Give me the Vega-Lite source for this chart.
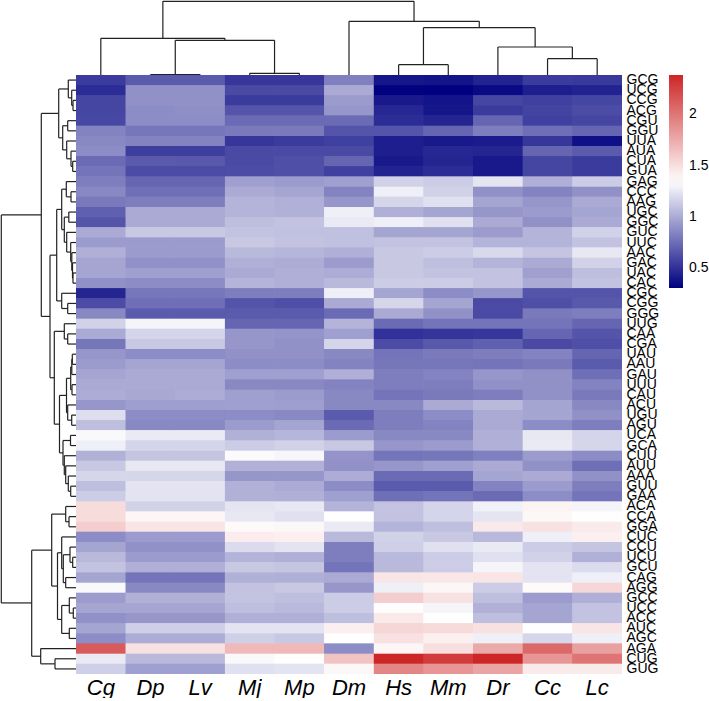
{"$schema":"https://vega.github.io/schema/vega-lite/v6.json","padding":0,"background":"white","spacing":0,"bounds":"flush","config":{"view":{"stroke":null},"font":"Liberation Sans","concat":{"spacing":0}},
"datasets":{
"colTree":[{"h":0.4,"a":1,"b":2,"ha":0,"hb":0},{"h":1.7,"a":3,"b":4,"ha":0,"hb":0},{"h":34.7,"a":1.5,"b":3.5,"ha":0.4,"hb":1.7},{"h":36.7,"a":0,"b":2.5,"ha":0,"hb":34.7},{"h":10.3,"a":6,"b":7,"ha":0,"hb":0},{"h":16.3,"a":9,"b":10,"ha":0,"hb":0},{"h":28,"a":8,"b":9.5,"ha":0,"hb":16.3},{"h":47.3,"a":6.5,"b":8.75,"ha":10.3,"hb":28},{"h":53.7,"a":5,"b":7.625,"ha":0,"hb":47.3},{"h":73.7,"a":1.25,"b":6.31,"ha":36.7,"hb":53.7}],
"rowTree":[{"h":3,"a":2,"b":3,"ha":0,"hb":0},{"h":4.3,"a":1,"b":2.5,"ha":0,"hb":3},{"h":7.7,"a":0,"b":1.75,"ha":0,"hb":4.3},{"h":8.3,"a":4,"b":5,"ha":0,"hb":0},{"h":3.3,"a":8,"b":9,"ha":0,"hb":0},{"h":5,"a":7,"b":8.5,"ha":0,"hb":3.3},{"h":9.3,"a":6,"b":7.75,"ha":0,"hb":5},{"h":13.3,"a":4.5,"b":6.875,"ha":8.3,"hb":9.3},{"h":17.3,"a":0.875,"b":5.6875,"ha":7.7,"hb":13.3},{"h":5,"a":11,"b":12,"ha":0,"hb":0},{"h":9.7,"a":10,"b":11.5,"ha":0,"hb":5},{"h":7.2,"a":13,"b":14,"ha":0,"hb":0},{"h":3,"a":19,"b":20,"ha":0,"hb":0},{"h":3.5,"a":18,"b":19.5,"ha":0,"hb":3},{"h":4.2,"a":17,"b":18.75,"ha":0,"hb":3.5},{"h":5.3,"a":16,"b":17.875,"ha":0,"hb":4.2},{"h":9.3,"a":15,"b":16.94,"ha":0,"hb":5.3},{"h":11.7,"a":13.5,"b":15.97,"ha":7.2,"hb":9.3},{"h":14.3,"a":10.75,"b":14.73,"ha":9.7,"hb":11.7},{"h":8.3,"a":22,"b":23,"ha":0,"hb":0},{"h":14.3,"a":21,"b":22.5,"ha":0,"hb":8.3},{"h":19.3,"a":12.74,"b":21.75,"ha":14.3,"hb":14.3},{"h":8.3,"a":25,"b":26,"ha":0,"hb":0},{"h":11.7,"a":24,"b":25.5,"ha":0,"hb":8.3},{"h":3.7,"a":27,"b":28,"ha":0,"hb":0},{"h":4.2,"a":27.5,"b":29,"ha":3.7,"hb":0},{"h":4,"a":30,"b":31,"ha":0,"hb":0},{"h":5.3,"a":28.25,"b":30.5,"ha":4.2,"hb":4},{"h":4.3,"a":33,"b":34,"ha":0,"hb":0},{"h":8.3,"a":32,"b":33.5,"ha":0,"hb":4.3},{"h":9.5,"a":29.375,"b":32.75,"ha":5.3,"hb":8.3},{"h":5.3,"a":40,"b":41,"ha":0,"hb":0},{"h":7.7,"a":39,"b":40.5,"ha":0,"hb":5.3},{"h":10.3,"a":38,"b":39.75,"ha":0,"hb":7.7},{"h":11.7,"a":37,"b":38.875,"ha":0,"hb":10.3},{"h":5.5,"a":35,"b":36,"ha":0,"hb":0},{"h":13,"a":35.5,"b":37.94,"ha":5.5,"hb":11.7},{"h":16.5,"a":31.06,"b":36.72,"ha":9.5,"hb":13},{"h":21.7,"a":24.75,"b":33.89,"ha":11.7,"hb":16.5},{"h":26,"a":17.245,"b":29.32,"ha":19.3,"hb":21.7},{"h":34.7,"a":3.281,"b":23.28,"ha":17.3,"hb":26},{"h":7,"a":43,"b":44,"ha":0,"hb":0},{"h":10.3,"a":42,"b":43.5,"ha":0,"hb":7},{"h":3.3,"a":47,"b":48,"ha":0,"hb":0},{"h":6,"a":46,"b":47.5,"ha":0,"hb":3.3},{"h":10.3,"a":49,"b":50,"ha":0,"hb":0},{"h":12.7,"a":46.75,"b":49.5,"ha":6,"hb":10.3},{"h":14.3,"a":45,"b":48.125,"ha":0,"hb":12.7},{"h":2.7,"a":52,"b":53,"ha":0,"hb":0},{"h":6.7,"a":51,"b":52.5,"ha":0,"hb":2.7},{"h":6.7,"a":54,"b":55,"ha":0,"hb":0},{"h":14.3,"a":51.75,"b":54.5,"ha":6.7,"hb":6.7},{"h":18.5,"a":46.56,"b":53.125,"ha":14.3,"hb":14.3},{"h":24.3,"a":42.75,"b":49.84,"ha":10.3,"hb":18.5},{"h":21,"a":57,"b":58,"ha":0,"hb":0},{"h":35.3,"a":56,"b":57.5,"ha":0,"hb":21},{"h":44.3,"a":46.3,"b":56.75,"ha":24.3,"hb":35.3},{"h":74.7,"a":13.28,"b":51.5,"ha":34.7,"hb":44.3}],
"heat":[
{"r":"GCG","c":"Cg","v":0.55},{"r":"GCG","c":"Dp","v":0.68},{"r":"GCG","c":"Lv","v":0.68},{"r":"GCG","c":"Mj","v":0.53},{"r":"GCG","c":"Mp","v":0.53},{"r":"GCG","c":"Dm","v":0.83},{"r":"GCG","c":"Hs","v":0.4},{"r":"GCG","c":"Mm","v":0.39},{"r":"GCG","c":"Dr","v":0.45},{"r":"GCG","c":"Cc","v":0.55},{"r":"GCG","c":"Lc","v":0.54},
{"r":"UCG","c":"Cg","v":0.49},{"r":"UCG","c":"Dp","v":0.9},{"r":"UCG","c":"Lv","v":0.9},{"r":"UCG","c":"Mj","v":0.61},{"r":"UCG","c":"Mp","v":0.61},{"r":"UCG","c":"Dm","v":1.0},{"r":"UCG","c":"Hs","v":0.32},{"r":"UCG","c":"Mm","v":0.31},{"r":"UCG","c":"Dr","v":0.35},{"r":"UCG","c":"Cc","v":0.43},{"r":"UCG","c":"Lc","v":0.45},
{"r":"CCG","c":"Cg","v":0.59},{"r":"CCG","c":"Dp","v":0.9},{"r":"CCG","c":"Lv","v":0.9},{"r":"CCG","c":"Mj","v":0.55},{"r":"CCG","c":"Mp","v":0.55},{"r":"CCG","c":"Dm","v":0.94},{"r":"CCG","c":"Hs","v":0.41},{"r":"CCG","c":"Mm","v":0.39},{"r":"CCG","c":"Dr","v":0.59},{"r":"CCG","c":"Cc","v":0.57},{"r":"CCG","c":"Lc","v":0.59},
{"r":"ACG","c":"Cg","v":0.59},{"r":"ACG","c":"Dp","v":0.88},{"r":"ACG","c":"Lv","v":0.89},{"r":"ACG","c":"Mj","v":0.65},{"r":"ACG","c":"Mp","v":0.65},{"r":"ACG","c":"Dm","v":0.92},{"r":"ACG","c":"Hs","v":0.47},{"r":"ACG","c":"Mm","v":0.4},{"r":"ACG","c":"Dr","v":0.55},{"r":"ACG","c":"Cc","v":0.58},{"r":"ACG","c":"Lc","v":0.62},
{"r":"CGU","c":"Cg","v":0.6},{"r":"CGU","c":"Dp","v":0.88},{"r":"CGU","c":"Lv","v":0.88},{"r":"CGU","c":"Mj","v":0.74},{"r":"CGU","c":"Mp","v":0.74},{"r":"CGU","c":"Dm","v":0.74},{"r":"CGU","c":"Hs","v":0.49},{"r":"CGU","c":"Mm","v":0.46},{"r":"CGU","c":"Dr","v":0.72},{"r":"CGU","c":"Cc","v":0.57},{"r":"CGU","c":"Lc","v":0.59},
{"r":"GGU","c":"Cg","v":0.84},{"r":"GGU","c":"Dp","v":0.79},{"r":"GGU","c":"Lv","v":0.79},{"r":"GGU","c":"Mj","v":0.8},{"r":"GGU","c":"Mp","v":0.8},{"r":"GGU","c":"Dm","v":0.65},{"r":"GGU","c":"Hs","v":0.65},{"r":"GGU","c":"Mm","v":0.72},{"r":"GGU","c":"Dr","v":0.82},{"r":"GGU","c":"Cc","v":0.76},{"r":"GGU","c":"Lc","v":0.72},
{"r":"UUA","c":"Cg","v":0.86},{"r":"UUA","c":"Dp","v":0.84},{"r":"UUA","c":"Lv","v":0.84},{"r":"UUA","c":"Mj","v":0.53},{"r":"UUA","c":"Mp","v":0.55},{"r":"UUA","c":"Dm","v":0.57},{"r":"UUA","c":"Hs","v":0.43},{"r":"UUA","c":"Mm","v":0.41},{"r":"UUA","c":"Dr","v":0.42},{"r":"UUA","c":"Cc","v":0.53},{"r":"UUA","c":"Lc","v":0.37},
{"r":"AUA","c":"Cg","v":0.88},{"r":"AUA","c":"Dp","v":0.56},{"r":"AUA","c":"Lv","v":0.56},{"r":"AUA","c":"Mj","v":0.61},{"r":"AUA","c":"Mp","v":0.61},{"r":"AUA","c":"Dm","v":0.61},{"r":"AUA","c":"Hs","v":0.43},{"r":"AUA","c":"Mm","v":0.47},{"r":"AUA","c":"Dr","v":0.46},{"r":"AUA","c":"Cc","v":0.72},{"r":"AUA","c":"Lc","v":0.68},
{"r":"CUA","c":"Cg","v":0.74},{"r":"CUA","c":"Dp","v":0.68},{"r":"CUA","c":"Lv","v":0.67},{"r":"CUA","c":"Mj","v":0.61},{"r":"CUA","c":"Mp","v":0.63},{"r":"CUA","c":"Dm","v":0.72},{"r":"CUA","c":"Hs","v":0.41},{"r":"CUA","c":"Mm","v":0.46},{"r":"CUA","c":"Dr","v":0.41},{"r":"CUA","c":"Cc","v":0.59},{"r":"CUA","c":"Lc","v":0.55},
{"r":"GUA","c":"Cg","v":0.78},{"r":"GUA","c":"Dp","v":0.62},{"r":"GUA","c":"Lv","v":0.62},{"r":"GUA","c":"Mj","v":0.62},{"r":"GUA","c":"Mp","v":0.63},{"r":"GUA","c":"Dm","v":0.57},{"r":"GUA","c":"Hs","v":0.45},{"r":"GUA","c":"Mm","v":0.49},{"r":"GUA","c":"Dr","v":0.41},{"r":"GUA","c":"Cc","v":0.59},{"r":"GUA","c":"Lc","v":0.55},
{"r":"GAG","c":"Cg","v":0.82},{"r":"GAG","c":"Dp","v":0.72},{"r":"GAG","c":"Lv","v":0.72},{"r":"GAG","c":"Mj","v":0.96},{"r":"GAG","c":"Mp","v":0.94},{"r":"GAG","c":"Dm","v":0.96},{"r":"GAG","c":"Hs","v":1.16},{"r":"GAG","c":"Mm","v":1.14},{"r":"GAG","c":"Dr","v":1.24},{"r":"GAG","c":"Cc","v":1.02},{"r":"GAG","c":"Lc","v":1.14},
{"r":"CCC","c":"Cg","v":0.86},{"r":"CCC","c":"Dp","v":0.76},{"r":"CCC","c":"Lv","v":0.76},{"r":"CCC","c":"Mj","v":1.0},{"r":"CCC","c":"Mp","v":0.98},{"r":"CCC","c":"Dm","v":0.84},{"r":"CCC","c":"Hs","v":1.28},{"r":"CCC","c":"Mm","v":1.16},{"r":"CCC","c":"Dr","v":0.9},{"r":"CCC","c":"Cc","v":0.84},{"r":"CCC","c":"Lc","v":0.9},
{"r":"AAG","c":"Cg","v":0.8},{"r":"AAG","c":"Dp","v":0.82},{"r":"AAG","c":"Lv","v":0.82},{"r":"AAG","c":"Mj","v":1.04},{"r":"AAG","c":"Mp","v":1.02},{"r":"AAG","c":"Dm","v":0.92},{"r":"AAG","c":"Hs","v":1.18},{"r":"AAG","c":"Mm","v":1.22},{"r":"AAG","c":"Dr","v":0.98},{"r":"AAG","c":"Cc","v":0.92},{"r":"AAG","c":"Lc","v":1.0},
{"r":"UGC","c":"Cg","v":0.7},{"r":"UGC","c":"Dp","v":1.0},{"r":"UGC","c":"Lv","v":1.0},{"r":"UGC","c":"Mj","v":1.04},{"r":"UGC","c":"Mp","v":1.03},{"r":"UGC","c":"Dm","v":1.28},{"r":"UGC","c":"Hs","v":1.02},{"r":"UGC","c":"Mm","v":0.98},{"r":"UGC","c":"Dr","v":0.92},{"r":"UGC","c":"Cc","v":0.94},{"r":"UGC","c":"Lc","v":0.98},
{"r":"GGC","c":"Cg","v":0.65},{"r":"GGC","c":"Dp","v":1.0},{"r":"GGC","c":"Lv","v":1.0},{"r":"GGC","c":"Mj","v":1.08},{"r":"GGC","c":"Mp","v":1.1},{"r":"GGC","c":"Dm","v":1.26},{"r":"GGC","c":"Hs","v":1.28},{"r":"GGC","c":"Mm","v":1.22},{"r":"GGC","c":"Dr","v":1.0},{"r":"GGC","c":"Cc","v":0.9},{"r":"GGC","c":"Lc","v":1.0},
{"r":"GUC","c":"Cg","v":1.0},{"r":"GUC","c":"Dp","v":1.12},{"r":"GUC","c":"Lv","v":1.12},{"r":"GUC","c":"Mj","v":1.1},{"r":"GUC","c":"Mp","v":1.09},{"r":"GUC","c":"Dm","v":1.09},{"r":"GUC","c":"Hs","v":0.98},{"r":"GUC","c":"Mm","v":0.98},{"r":"GUC","c":"Dr","v":0.94},{"r":"GUC","c":"Cc","v":1.04},{"r":"GUC","c":"Lc","v":1.16},
{"r":"UUC","c":"Cg","v":0.94},{"r":"UUC","c":"Dp","v":0.94},{"r":"UUC","c":"Lv","v":0.94},{"r":"UUC","c":"Mj","v":1.12},{"r":"UUC","c":"Mp","v":1.1},{"r":"UUC","c":"Dm","v":1.09},{"r":"UUC","c":"Hs","v":1.1},{"r":"UUC","c":"Mm","v":1.1},{"r":"UUC","c":"Dr","v":1.04},{"r":"UUC","c":"Cc","v":1.04},{"r":"UUC","c":"Lc","v":1.1},
{"r":"AAC","c":"Cg","v":1.02},{"r":"AAC","c":"Dp","v":0.94},{"r":"AAC","c":"Lv","v":0.94},{"r":"AAC","c":"Mj","v":1.06},{"r":"AAC","c":"Mp","v":1.05},{"r":"AAC","c":"Dm","v":1.02},{"r":"AAC","c":"Hs","v":1.12},{"r":"AAC","c":"Mm","v":1.14},{"r":"AAC","c":"Dr","v":1.19},{"r":"AAC","c":"Cc","v":1.11},{"r":"AAC","c":"Lc","v":1.25},
{"r":"GAC","c":"Cg","v":0.98},{"r":"GAC","c":"Dp","v":0.9},{"r":"GAC","c":"Lv","v":0.9},{"r":"GAC","c":"Mj","v":1.02},{"r":"GAC","c":"Mp","v":1.01},{"r":"GAC","c":"Dm","v":0.94},{"r":"GAC","c":"Hs","v":1.12},{"r":"GAC","c":"Mm","v":1.08},{"r":"GAC","c":"Dr","v":1.04},{"r":"GAC","c":"Cc","v":1.0},{"r":"GAC","c":"Lc","v":1.16},
{"r":"UAC","c":"Cg","v":0.98},{"r":"UAC","c":"Dp","v":0.96},{"r":"UAC","c":"Lv","v":0.96},{"r":"UAC","c":"Mj","v":1.0},{"r":"UAC","c":"Mp","v":1.02},{"r":"UAC","c":"Dm","v":1.01},{"r":"UAC","c":"Hs","v":1.12},{"r":"UAC","c":"Mm","v":1.1},{"r":"UAC","c":"Dr","v":1.1},{"r":"UAC","c":"Cc","v":0.96},{"r":"UAC","c":"Lc","v":1.08},
{"r":"CAC","c":"Cg","v":0.9},{"r":"CAC","c":"Dp","v":0.88},{"r":"CAC","c":"Lv","v":0.88},{"r":"CAC","c":"Mj","v":1.04},{"r":"CAC","c":"Mp","v":1.02},{"r":"CAC","c":"Dm","v":1.06},{"r":"CAC","c":"Hs","v":1.14},{"r":"CAC","c":"Mm","v":1.14},{"r":"CAC","c":"Dr","v":1.1},{"r":"CAC","c":"Cc","v":1.0},{"r":"CAC","c":"Lc","v":1.1},
{"r":"CGC","c":"Cg","v":0.46},{"r":"CGC","c":"Dp","v":0.79},{"r":"CGC","c":"Lv","v":0.79},{"r":"CGC","c":"Mj","v":0.82},{"r":"CGC","c":"Mp","v":0.82},{"r":"CGC","c":"Dm","v":1.28},{"r":"CGC","c":"Hs","v":0.98},{"r":"CGC","c":"Mm","v":0.88},{"r":"CGC","c":"Dr","v":0.92},{"r":"CGC","c":"Cc","v":0.65},{"r":"CGC","c":"Lc","v":0.65},
{"r":"CGG","c":"Cg","v":0.62},{"r":"CGG","c":"Dp","v":0.76},{"r":"CGG","c":"Lv","v":0.76},{"r":"CGG","c":"Mj","v":0.65},{"r":"CGG","c":"Mp","v":0.63},{"r":"CGG","c":"Dm","v":1.0},{"r":"CGG","c":"Hs","v":1.18},{"r":"CGG","c":"Mm","v":0.98},{"r":"CGG","c":"Dr","v":0.61},{"r":"CGG","c":"Cc","v":0.63},{"r":"CGG","c":"Lc","v":0.67},
{"r":"GGG","c":"Cg","v":0.86},{"r":"GGG","c":"Dp","v":0.68},{"r":"GGG","c":"Lv","v":0.68},{"r":"GGG","c":"Mj","v":0.68},{"r":"GGG","c":"Mp","v":0.68},{"r":"GGG","c":"Dm","v":0.74},{"r":"GGG","c":"Hs","v":1.0},{"r":"GGG","c":"Mm","v":0.9},{"r":"GGG","c":"Dr","v":0.61},{"r":"GGG","c":"Cc","v":0.8},{"r":"GGG","c":"Lc","v":0.82},
{"r":"UUG","c":"Cg","v":1.16},{"r":"UUG","c":"Dp","v":1.3},{"r":"UUG","c":"Lv","v":1.3},{"r":"UUG","c":"Mj","v":0.72},{"r":"UUG","c":"Mp","v":0.72},{"r":"UUG","c":"Dm","v":1.04},{"r":"UUG","c":"Hs","v":0.74},{"r":"UUG","c":"Mm","v":0.78},{"r":"UUG","c":"Dr","v":0.78},{"r":"UUG","c":"Cc","v":0.78},{"r":"UUG","c":"Lc","v":0.72},
{"r":"CAA","c":"Cg","v":1.0},{"r":"CAA","c":"Dp","v":1.17},{"r":"CAA","c":"Lv","v":1.17},{"r":"CAA","c":"Mj","v":0.92},{"r":"CAA","c":"Mp","v":0.91},{"r":"CAA","c":"Dm","v":0.96},{"r":"CAA","c":"Hs","v":0.51},{"r":"CAA","c":"Mm","v":0.52},{"r":"CAA","c":"Dr","v":0.53},{"r":"CAA","c":"Cc","v":0.72},{"r":"CAA","c":"Lc","v":0.65},
{"r":"CGA","c":"Cg","v":0.79},{"r":"CGA","c":"Dp","v":1.12},{"r":"CGA","c":"Lv","v":1.12},{"r":"CGA","c":"Mj","v":0.92},{"r":"CGA","c":"Mp","v":0.9},{"r":"CGA","c":"Dm","v":1.17},{"r":"CGA","c":"Hs","v":0.62},{"r":"CGA","c":"Mm","v":0.67},{"r":"CGA","c":"Dr","v":0.7},{"r":"CGA","c":"Cc","v":0.61},{"r":"CGA","c":"Lc","v":0.63},
{"r":"UAU","c":"Cg","v":0.92},{"r":"UAU","c":"Dp","v":0.88},{"r":"UAU","c":"Lv","v":0.88},{"r":"UAU","c":"Mj","v":0.9},{"r":"UAU","c":"Mp","v":0.9},{"r":"UAU","c":"Dm","v":0.86},{"r":"UAU","c":"Hs","v":0.78},{"r":"UAU","c":"Mm","v":0.8},{"r":"UAU","c":"Dr","v":0.82},{"r":"UAU","c":"Cc","v":0.84},{"r":"UAU","c":"Lc","v":0.72},
{"r":"AAU","c":"Cg","v":0.94},{"r":"AAU","c":"Dp","v":0.98},{"r":"AAU","c":"Lv","v":0.98},{"r":"AAU","c":"Mj","v":0.88},{"r":"AAU","c":"Mp","v":0.88},{"r":"AAU","c":"Dm","v":0.84},{"r":"AAU","c":"Hs","v":0.79},{"r":"AAU","c":"Mm","v":0.79},{"r":"AAU","c":"Dr","v":0.78},{"r":"AAU","c":"Cc","v":0.8},{"r":"AAU","c":"Lc","v":0.68},
{"r":"GAU","c":"Cg","v":0.98},{"r":"GAU","c":"Dp","v":1.0},{"r":"GAU","c":"Lv","v":1.0},{"r":"GAU","c":"Mj","v":0.96},{"r":"GAU","c":"Mp","v":0.96},{"r":"GAU","c":"Dm","v":1.02},{"r":"GAU","c":"Hs","v":0.82},{"r":"GAU","c":"Mm","v":0.84},{"r":"GAU","c":"Dr","v":0.92},{"r":"GAU","c":"Cc","v":0.9},{"r":"GAU","c":"Lc","v":0.76},
{"r":"UUU","c":"Cg","v":1.0},{"r":"UUU","c":"Dp","v":1.0},{"r":"UUU","c":"Lv","v":1.0},{"r":"UUU","c":"Mj","v":0.86},{"r":"UUU","c":"Mp","v":0.86},{"r":"UUU","c":"Dm","v":0.84},{"r":"UUU","c":"Hs","v":0.82},{"r":"UUU","c":"Mm","v":0.82},{"r":"UUU","c":"Dr","v":0.9},{"r":"UUU","c":"Cc","v":0.9},{"r":"UUU","c":"Lc","v":0.84},
{"r":"CAU","c":"Cg","v":1.01},{"r":"CAU","c":"Dp","v":0.99},{"r":"CAU","c":"Lv","v":1.01},{"r":"CAU","c":"Mj","v":0.96},{"r":"CAU","c":"Mp","v":0.94},{"r":"CAU","c":"Dm","v":0.86},{"r":"CAU","c":"Hs","v":0.78},{"r":"CAU","c":"Mm","v":0.8},{"r":"CAU","c":"Dr","v":0.82},{"r":"CAU","c":"Cc","v":0.9},{"r":"CAU","c":"Lc","v":0.8},
{"r":"ACU","c":"Cg","v":0.92},{"r":"ACU","c":"Dp","v":0.95},{"r":"ACU","c":"Lv","v":0.95},{"r":"ACU","c":"Mj","v":0.96},{"r":"ACU","c":"Mp","v":0.95},{"r":"ACU","c":"Dm","v":0.86},{"r":"ACU","c":"Hs","v":0.86},{"r":"ACU","c":"Mm","v":1.0},{"r":"ACU","c":"Dr","v":1.06},{"r":"ACU","c":"Cc","v":0.98},{"r":"ACU","c":"Lc","v":0.86},
{"r":"UGU","c":"Cg","v":1.21},{"r":"UGU","c":"Dp","v":0.88},{"r":"UGU","c":"Lv","v":0.88},{"r":"UGU","c":"Mj","v":0.88},{"r":"UGU","c":"Mp","v":0.86},{"r":"UGU","c":"Dm","v":0.68},{"r":"UGU","c":"Hs","v":0.82},{"r":"UGU","c":"Mm","v":0.88},{"r":"UGU","c":"Dr","v":1.0},{"r":"UGU","c":"Cc","v":0.98},{"r":"UGU","c":"Lc","v":0.9},
{"r":"AGU","c":"Cg","v":1.08},{"r":"AGU","c":"Dp","v":0.86},{"r":"AGU","c":"Lv","v":0.86},{"r":"AGU","c":"Mj","v":0.94},{"r":"AGU","c":"Mp","v":0.98},{"r":"AGU","c":"Dm","v":0.74},{"r":"AGU","c":"Hs","v":0.82},{"r":"AGU","c":"Mm","v":0.84},{"r":"AGU","c":"Dr","v":1.0},{"r":"AGU","c":"Cc","v":0.88},{"r":"AGU","c":"Lc","v":0.82},
{"r":"UCA","c":"Cg","v":1.32},{"r":"UCA","c":"Dp","v":1.26},{"r":"UCA","c":"Lv","v":1.26},{"r":"UCA","c":"Mj","v":1.03},{"r":"UCA","c":"Mp","v":1.05},{"r":"UCA","c":"Dm","v":0.94},{"r":"UCA","c":"Hs","v":0.86},{"r":"UCA","c":"Mm","v":0.86},{"r":"UCA","c":"Dr","v":1.02},{"r":"UCA","c":"Cc","v":1.25},{"r":"UCA","c":"Lc","v":1.17},
{"r":"GCA","c":"Cg","v":1.28},{"r":"GCA","c":"Dp","v":1.17},{"r":"GCA","c":"Lv","v":1.17},{"r":"GCA","c":"Mj","v":1.14},{"r":"GCA","c":"Mp","v":1.16},{"r":"GCA","c":"Dm","v":1.12},{"r":"GCA","c":"Hs","v":0.92},{"r":"GCA","c":"Mm","v":0.94},{"r":"GCA","c":"Dr","v":1.02},{"r":"GCA","c":"Cc","v":1.26},{"r":"GCA","c":"Lc","v":1.18},
{"r":"CUU","c":"Cg","v":1.03},{"r":"CUU","c":"Dp","v":1.11},{"r":"CUU","c":"Lv","v":1.11},{"r":"CUU","c":"Mj","v":1.33},{"r":"CUU","c":"Mp","v":1.31},{"r":"CUU","c":"Dm","v":0.91},{"r":"CUU","c":"Hs","v":0.78},{"r":"CUU","c":"Mm","v":0.79},{"r":"CUU","c":"Dr","v":0.83},{"r":"CUU","c":"Cc","v":0.94},{"r":"CUU","c":"Lc","v":0.88},
{"r":"AUU","c":"Cg","v":1.12},{"r":"AUU","c":"Dp","v":1.25},{"r":"AUU","c":"Lv","v":1.25},{"r":"AUU","c":"Mj","v":1.03},{"r":"AUU","c":"Mp","v":1.03},{"r":"AUU","c":"Dm","v":0.9},{"r":"AUU","c":"Hs","v":0.92},{"r":"AUU","c":"Mm","v":0.96},{"r":"AUU","c":"Dr","v":1.0},{"r":"AUU","c":"Cc","v":0.9},{"r":"AUU","c":"Lc","v":0.76},
{"r":"AAA","c":"Cg","v":1.18},{"r":"AAA","c":"Dp","v":1.18},{"r":"AAA","c":"Lv","v":1.18},{"r":"AAA","c":"Mj","v":0.92},{"r":"AAA","c":"Mp","v":0.92},{"r":"AAA","c":"Dm","v":1.01},{"r":"AAA","c":"Hs","v":0.74},{"r":"AAA","c":"Mm","v":0.74},{"r":"AAA","c":"Dr","v":0.98},{"r":"AAA","c":"Cc","v":1.0},{"r":"AAA","c":"Lc","v":0.9},
{"r":"GUU","c":"Cg","v":1.08},{"r":"GUU","c":"Dp","v":1.23},{"r":"GUU","c":"Lv","v":1.23},{"r":"GUU","c":"Mj","v":1.03},{"r":"GUU","c":"Mp","v":1.0},{"r":"GUU","c":"Dm","v":0.88},{"r":"GUU","c":"Hs","v":0.68},{"r":"GUU","c":"Mm","v":0.68},{"r":"GUU","c":"Dr","v":0.84},{"r":"GUU","c":"Cc","v":0.94},{"r":"GUU","c":"Lc","v":0.82},
{"r":"GAA","c":"Cg","v":1.14},{"r":"GAA","c":"Dp","v":1.23},{"r":"GAA","c":"Lv","v":1.23},{"r":"GAA","c":"Mj","v":1.03},{"r":"GAA","c":"Mp","v":1.02},{"r":"GAA","c":"Dm","v":0.96},{"r":"GAA","c":"Hs","v":0.76},{"r":"GAA","c":"Mm","v":0.78},{"r":"GAA","c":"Dr","v":0.74},{"r":"GAA","c":"Cc","v":0.88},{"r":"GAA","c":"Lc","v":0.78},
{"r":"ACA","c":"Cg","v":1.51},{"r":"ACA","c":"Dp","v":1.16},{"r":"ACA","c":"Lv","v":1.16},{"r":"ACA","c":"Mj","v":1.24},{"r":"ACA","c":"Mp","v":1.25},{"r":"ACA","c":"Dm","v":1.04},{"r":"ACA","c":"Hs","v":1.1},{"r":"ACA","c":"Mm","v":1.17},{"r":"ACA","c":"Dr","v":1.29},{"r":"ACA","c":"Cc","v":1.4},{"r":"ACA","c":"Lc","v":1.3},
{"r":"CCA","c":"Cg","v":1.51},{"r":"CCA","c":"Dp","v":1.39},{"r":"CCA","c":"Lv","v":1.39},{"r":"CCA","c":"Mj","v":1.25},{"r":"CCA","c":"Mp","v":1.22},{"r":"CCA","c":"Dm","v":1.34},{"r":"CCA","c":"Hs","v":1.1},{"r":"CCA","c":"Mm","v":1.17},{"r":"CCA","c":"Dr","v":1.24},{"r":"CCA","c":"Cc","v":1.38},{"r":"CCA","c":"Lc","v":1.35},
{"r":"GGA","c":"Cg","v":1.58},{"r":"GGA","c":"Dp","v":1.47},{"r":"GGA","c":"Lv","v":1.47},{"r":"GGA","c":"Mj","v":1.37},{"r":"GGA","c":"Mp","v":1.38},{"r":"GGA","c":"Dm","v":1.26},{"r":"GGA","c":"Hs","v":1.04},{"r":"GGA","c":"Mm","v":1.08},{"r":"GGA","c":"Dr","v":1.45},{"r":"GGA","c":"Cc","v":1.49},{"r":"GGA","c":"Lc","v":1.44},
{"r":"CUC","c":"Cg","v":0.88},{"r":"CUC","c":"Dp","v":0.94},{"r":"CUC","c":"Lv","v":0.94},{"r":"CUC","c":"Mj","v":1.43},{"r":"CUC","c":"Mp","v":1.42},{"r":"CUC","c":"Dm","v":1.06},{"r":"CUC","c":"Hs","v":1.16},{"r":"CUC","c":"Mm","v":1.12},{"r":"CUC","c":"Dr","v":1.06},{"r":"CUC","c":"Cc","v":1.28},{"r":"CUC","c":"Lc","v":1.42},
{"r":"CCU","c":"Cg","v":0.98},{"r":"CCU","c":"Dp","v":0.9},{"r":"CCU","c":"Lv","v":0.9},{"r":"CCU","c":"Mj","v":1.2},{"r":"CCU","c":"Mp","v":1.23},{"r":"CCU","c":"Dm","v":0.82},{"r":"CCU","c":"Hs","v":1.15},{"r":"CCU","c":"Mm","v":1.22},{"r":"CCU","c":"Dr","v":1.26},{"r":"CCU","c":"Cc","v":1.14},{"r":"CCU","c":"Lc","v":1.11},
{"r":"UCU","c":"Cg","v":1.06},{"r":"UCU","c":"Dp","v":0.94},{"r":"UCU","c":"Lv","v":0.94},{"r":"UCU","c":"Mj","v":1.04},{"r":"UCU","c":"Mp","v":1.02},{"r":"UCU","c":"Dm","v":0.82},{"r":"UCU","c":"Hs","v":1.06},{"r":"UCU","c":"Mm","v":1.14},{"r":"UCU","c":"Dr","v":1.22},{"r":"UCU","c":"Cc","v":1.16},{"r":"UCU","c":"Lc","v":1.02},
{"r":"GCU","c":"Cg","v":1.1},{"r":"GCU","c":"Dp","v":1.02},{"r":"GCU","c":"Lv","v":1.02},{"r":"GCU","c":"Mj","v":1.12},{"r":"GCU","c":"Mp","v":1.11},{"r":"GCU","c":"Dm","v":0.78},{"r":"GCU","c":"Hs","v":1.06},{"r":"GCU","c":"Mm","v":1.14},{"r":"GCU","c":"Dr","v":1.3},{"r":"GCU","c":"Cc","v":1.23},{"r":"GCU","c":"Lc","v":1.2},
{"r":"CAG","c":"Cg","v":0.98},{"r":"CAG","c":"Dp","v":0.78},{"r":"CAG","c":"Lv","v":0.78},{"r":"CAG","c":"Mj","v":1.03},{"r":"CAG","c":"Mp","v":1.02},{"r":"CAG","c":"Dm","v":1.0},{"r":"CAG","c":"Hs","v":1.47},{"r":"CAG","c":"Mm","v":1.46},{"r":"CAG","c":"Dr","v":1.47},{"r":"CAG","c":"Cc","v":1.23},{"r":"CAG","c":"Lc","v":1.28},
{"r":"AGG","c":"Cg","v":1.32},{"r":"AGG","c":"Dp","v":0.86},{"r":"AGG","c":"Lv","v":0.86},{"r":"AGG","c":"Mj","v":1.1},{"r":"AGG","c":"Mp","v":1.12},{"r":"AGG","c":"Dm","v":0.92},{"r":"AGG","c":"Hs","v":1.28},{"r":"AGG","c":"Mm","v":1.39},{"r":"AGG","c":"Dr","v":1.14},{"r":"AGG","c":"Cc","v":1.37},{"r":"AGG","c":"Lc","v":1.54},
{"r":"GCC","c":"Cg","v":0.94},{"r":"GCC","c":"Dp","v":1.03},{"r":"GCC","c":"Lv","v":1.03},{"r":"GCC","c":"Mj","v":1.1},{"r":"GCC","c":"Mp","v":1.08},{"r":"GCC","c":"Dm","v":1.14},{"r":"GCC","c":"Hs","v":1.58},{"r":"GCC","c":"Mm","v":1.49},{"r":"GCC","c":"Dr","v":1.08},{"r":"GCC","c":"Cc","v":0.94},{"r":"GCC","c":"Lc","v":1.02},
{"r":"UCC","c":"Cg","v":0.98},{"r":"UCC","c":"Dp","v":0.98},{"r":"UCC","c":"Lv","v":0.98},{"r":"UCC","c":"Mj","v":1.08},{"r":"UCC","c":"Mp","v":1.06},{"r":"UCC","c":"Dm","v":1.14},{"r":"UCC","c":"Hs","v":1.36},{"r":"UCC","c":"Mm","v":1.3},{"r":"UCC","c":"Dr","v":1.03},{"r":"UCC","c":"Cc","v":0.98},{"r":"UCC","c":"Lc","v":1.1},
{"r":"ACC","c":"Cg","v":0.9},{"r":"ACC","c":"Dp","v":0.92},{"r":"ACC","c":"Lv","v":0.92},{"r":"ACC","c":"Mj","v":1.02},{"r":"ACC","c":"Mp","v":1.02},{"r":"ACC","c":"Dm","v":1.08},{"r":"ACC","c":"Hs","v":1.45},{"r":"ACC","c":"Mm","v":1.35},{"r":"ACC","c":"Dr","v":1.08},{"r":"ACC","c":"Cc","v":0.98},{"r":"ACC","c":"Lc","v":1.1},
{"r":"AUC","c":"Cg","v":0.98},{"r":"AUC","c":"Dp","v":1.15},{"r":"AUC","c":"Lv","v":1.15},{"r":"AUC","c":"Mj","v":1.23},{"r":"AUC","c":"Mp","v":1.23},{"r":"AUC","c":"Dm","v":1.42},{"r":"AUC","c":"Hs","v":1.54},{"r":"AUC","c":"Mm","v":1.52},{"r":"AUC","c":"Dr","v":1.49},{"r":"AUC","c":"Cc","v":1.34},{"r":"AUC","c":"Lc","v":1.47},
{"r":"AGC","c":"Cg","v":0.88},{"r":"AGC","c":"Dp","v":1.01},{"r":"AGC","c":"Lv","v":1.01},{"r":"AGC","c":"Mj","v":1.15},{"r":"AGC","c":"Mp","v":1.12},{"r":"AGC","c":"Dm","v":1.35},{"r":"AGC","c":"Hs","v":1.49},{"r":"AGC","c":"Mm","v":1.42},{"r":"AGC","c":"Dr","v":1.28},{"r":"AGC","c":"Cc","v":1.18},{"r":"AGC","c":"Lc","v":1.28},
{"r":"AGA","c":"Cg","v":2.13},{"r":"AGA","c":"Dp","v":1.49},{"r":"AGA","c":"Lv","v":1.49},{"r":"AGA","c":"Mj","v":1.68},{"r":"AGA","c":"Mp","v":1.68},{"r":"AGA","c":"Dm","v":0.88},{"r":"AGA","c":"Hs","v":1.39},{"r":"AGA","c":"Mm","v":1.5},{"r":"AGA","c":"Dr","v":1.75},{"r":"AGA","c":"Cc","v":2.06},{"r":"AGA","c":"Lc","v":1.8},
{"r":"CUG","c":"Cg","v":1.26},{"r":"CUG","c":"Dp","v":1.06},{"r":"CUG","c":"Lv","v":1.06},{"r":"CUG","c":"Mj","v":1.32},{"r":"CUG","c":"Mp","v":1.35},{"r":"CUG","c":"Dm","v":1.63},{"r":"CUG","c":"Hs","v":2.38},{"r":"CUG","c":"Mm","v":2.28},{"r":"CUG","c":"Dr","v":2.38},{"r":"CUG","c":"Cc","v":1.85},{"r":"CUG","c":"Lc","v":2.01},
{"r":"GUG","c":"Cg","v":1.15},{"r":"GUG","c":"Dp","v":0.96},{"r":"GUG","c":"Lv","v":0.96},{"r":"GUG","c":"Mj","v":1.22},{"r":"GUG","c":"Mp","v":1.23},{"r":"GUG","c":"Dm","v":1.38},{"r":"GUG","c":"Hs","v":1.92},{"r":"GUG","c":"Mm","v":1.85},{"r":"GUG","c":"Dr","v":1.78},{"r":"GUG","c":"Cc","v":1.44},{"r":"GUG","c":"Lc","v":1.44}
]},
"vconcat":[
{"width":622,"height":75,"data":{"name":"colTree"},"layer":[
{"mark":{"type":"rule","color":"#222","strokeWidth":1.2},"encoding":{"y":{"field":"h","type":"quantitative","scale":{"domain":[0,75],"nice":false,"zero":false},"axis":null},"x":{"field":"a","type":"quantitative","scale":{"domain":[-2.031,10.5],"nice":false,"zero":false},"axis":null},"x2":{"field":"b"}}},
{"mark":{"type":"rule","color":"#222","strokeWidth":1.2},"encoding":{"x":{"field":"a","type":"quantitative"},"y":{"field":"ha","type":"quantitative"},"y2":{"field":"h"}}},
{"mark":{"type":"rule","color":"#222","strokeWidth":1.2},"encoding":{"x":{"field":"b","type":"quantitative"},"y":{"field":"hb","type":"quantitative"},"y2":{"field":"h"}}}
]},
{"spacing":0,"bounds":"flush","hconcat":[
{"width":76,"height":599,"data":{"name":"rowTree"},"layer":[
{"mark":{"type":"rule","color":"#222","strokeWidth":1.2},"encoding":{"x":{"field":"h","type":"quantitative","scale":{"domain":[0,76],"reverse":true,"nice":false,"zero":false},"axis":null},"y":{"field":"a","type":"quantitative","scale":{"domain":[-0.5,58.5],"reverse":true,"nice":false,"zero":false},"axis":null},"y2":{"field":"b"}}},
{"mark":{"type":"rule","color":"#222","strokeWidth":1.2},"encoding":{"y":{"field":"a","type":"quantitative"},"x":{"field":"ha","type":"quantitative"},"x2":{"field":"h"}}},
{"mark":{"type":"rule","color":"#222","strokeWidth":1.2},"encoding":{"y":{"field":"b","type":"quantitative"},"x":{"field":"hb","type":"quantitative"},"x2":{"field":"h"}}}
]},
{"width":546,"height":599,"data":{"name":"heat"},"encoding":{
"x":{"field":"c","type":"nominal","sort":null,"scale":{"paddingInner":0,"paddingOuter":0},"axis":{"orient":"bottom","title":null,"domain":false,"ticks":false,"labelAngle":0,"labelFont":"Liberation Sans","labelFontStyle":"italic","labelFontSize":22,"labelColor":"#000","labelPadding":3}},
"y":{"field":"r","type":"nominal","sort":null,"scale":{"paddingInner":0,"paddingOuter":0},"axis":{"orient":"right","title":null,"domain":false,"ticks":false,"labelFont":"Liberation Sans","labelFontSize":14,"labelColor":"#000","labelPadding":4,"labelOverlap":false,"labelBaseline":"middle"}}},
"layer":[
{"mark":{"type":"rect"},"encoding":{"color":{"field":"v","type":"quantitative","scale":{"domain":[0.31,1.345,2.38],"range":["#000080","#ffffff","#cd2626"],"interpolate":"rgb"},"legend":{"orient":"none","legendX":669,"legendY":75,"direction":"vertical","title":null,"values":[0.5,1,1.5,2],"format":"~g","gradientLength":213,"gradientThickness":14,"gradientStrokeWidth":0,"labelFont":"Liberation Sans","labelFontSize":14,"labelColor":"#000","labelOffset":6,"labelOverlap":false}}}},
{"mark":{"type":"rect"},"encoding":{"color":{"field":"v","type":"quantitative","legend":null}}},
{"mark":{"type":"rect"},"encoding":{"color":{"field":"v","type":"quantitative","legend":null}}}
]}
]}
]}
